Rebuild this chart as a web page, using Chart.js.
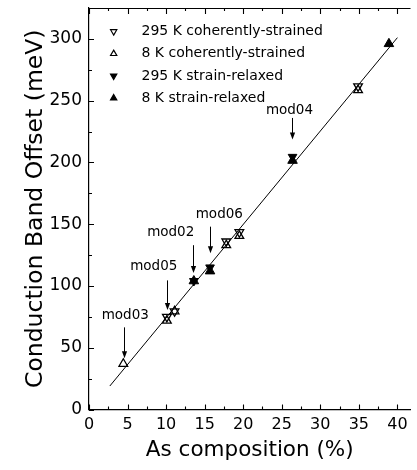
<!DOCTYPE html>
<html>
<head>
<meta charset="utf-8">
<script src="https://cdn.jsdelivr.net/npm/chart.js@4/dist/chart.umd.min.js"></script>
<style>
  html, body { margin: 0; padding: 0; background: #fff; }
  #c { display: block; }
</style>
</head>
<body>
<canvas id="c" width="417" height="470" style="width:417px;height:470px"></canvas>
<script>
// ---- data ----
const xTickValues = [0, 5, 10, 15, 20, 25, 30, 35, 40];
const yTickValues = [0, 50, 100, 150, 200, 250, 300];
const xMinorValues = [2.5, 7.5, 12.5, 17.5, 22.5, 27.5, 32.5, 37.5];
const yMinorValues = [25, 75, 125, 175, 225, 275, 325];

const fitX = [2.7, 40.0];
const fitY = [19, 301];

const coh295X = [10.1, 11.1, 17.8, 19.5, 34.9];
const coh295Y = [75.0, 79.5, 136.0, 143.5, 261.5];
const coh8X = [4.45, 10.1, 11.1, 17.8, 19.5, 34.9];
const coh8Y = [37.0, 72.0, 79.5, 133.0, 140.5, 258.5];
const rel295X = [13.6, 15.7, 26.4];
const rel295Y = [104.0, 115.0, 204.5];
const rel8X = [13.6, 15.7, 26.4, 38.9];
const rel8Y = [104.0, 112.0, 201.5, 296.0];

const seriesNames = ['295 K coherently-strained', '8 K coherently-strained', '295 K strain-relaxed', '8 K strain-relaxed'];

const annoLabels = ['mod03', 'mod05', 'mod02', 'mod06', 'mod04'];
const annoTextX = [4.7, 8.4, 10.6, 16.9, 26.0];
const annoTextY = [75.8, 115.5, 143.5, 158.0, 242.0];
const annoArrowX = [4.6, 10.1, 13.5, 15.7, 26.3];
const annoTailY = [66.5, 104.5, 133.0, 148.0, 236.0];
const annoTipY = [41.5, 80.5, 110.5, 126.5, 218.5];

const xTitle = 'As composition (%)';
const yTitle = 'Conduction Band Offset (meV)';

const toPts = (xs, ys) => xs.map((x, i) => ({ x: x, y: ys[i] }));
const FONT = "'DejaVu Sans'";

function tri(ctx, x, y, r, down, filled, lw) {
  ctx.save();
  ctx.beginPath();
  const s = down ? -1 : 1;
  ctx.moveTo(x, y - s * r);
  ctx.lineTo(x + r * Math.sqrt(3) / 2, y + s * r / 2);
  ctx.lineTo(x - r * Math.sqrt(3) / 2, y + s * r / 2);
  ctx.closePath();
  if (filled) { ctx.fillStyle = '#000'; ctx.fill(); }
  ctx.lineWidth = lw; ctx.strokeStyle = '#000'; ctx.stroke();
  ctx.restore();
}

const framePlugin = {
  id: 'frame',
  afterDraw(chart) {
    const { ctx, chartArea: a, scales: { x, y } } = chart;
    ctx.save();
    ctx.strokeStyle = '#000';
    ctx.lineWidth = 1.2;
    // top frame line
    ctx.beginPath();
    ctx.moveTo(a.left, a.top + 0.5);
    ctx.lineTo(a.right, a.top + 0.5);
    ctx.stroke();
    ctx.lineWidth = 1.1;
    ctx.beginPath();
    xTickValues.forEach(v => {
      const px = Math.round(x.getPixelForValue(v)) + 0.5;
      ctx.moveTo(px, a.bottom); ctx.lineTo(px, a.bottom - 5);
      ctx.moveTo(px, a.top); ctx.lineTo(px, a.top + 6);
    });
    xMinorValues.forEach(v => {
      const px = Math.round(x.getPixelForValue(v)) + 0.5;
      ctx.moveTo(px, a.bottom); ctx.lineTo(px, a.bottom - 3);
      ctx.moveTo(px, a.top); ctx.lineTo(px, a.top + 3);
    });
    yTickValues.forEach(v => {
      const py = Math.round(y.getPixelForValue(v)) + 0.5;
      ctx.moveTo(a.left, py); ctx.lineTo(a.left + 5, py);
    });
    yMinorValues.forEach(v => {
      const py = Math.round(y.getPixelForValue(v)) + 0.5;
      ctx.moveTo(a.left, py); ctx.lineTo(a.left + 3, py);
    });
    ctx.stroke();

    // legend inside the plot
    const lx = x.getPixelForValue(3.2);
    const ly0 = 31.5, dy = 22.2;
    ctx.font = '14px ' + FONT;
    ctx.fillStyle = '#000';
    ctx.textAlign = 'left';
    ctx.textBaseline = 'middle';
    seriesNames.forEach((name, i) => {
      const yy = ly0 + i * dy;
      tri(ctx, lx, yy, 3.6, i % 2 === 0, i >= 2, 1.2);
      ctx.fillText(name, 141.5, yy);
    });

    // annotations with arrows
    ctx.font = '13.5px ' + FONT;
    ctx.textAlign = 'center';
    annoLabels.forEach((lab, i) => {
      ctx.fillText(lab, x.getPixelForValue(annoTextX[i]), y.getPixelForValue(annoTextY[i]));
      const ax = Math.round(x.getPixelForValue(annoArrowX[i])) + 0.5;
      const t0 = y.getPixelForValue(annoTailY[i]);
      const t1 = y.getPixelForValue(annoTipY[i]);
      ctx.lineWidth = 1;
      ctx.beginPath();
      ctx.moveTo(ax, t0); ctx.lineTo(ax, t1 - 5);
      ctx.stroke();
      ctx.beginPath();
      ctx.moveTo(ax, t1);
      ctx.lineTo(ax - 2.6, t1 - 7);
      ctx.lineTo(ax + 2.6, t1 - 7);
      ctx.closePath();
      ctx.fill();
    });
    ctx.restore();
  }
};

const tickFontY = { family: FONT, size: 17 };
const tickFontX = { family: FONT, size: 16 };

new Chart(document.getElementById('c'), {
  type: 'scatter',
  data: {
    datasets: [
      { label: 'fit', data: toPts(fitX, fitY), showLine: true, pointRadius: 0, borderColor: '#000', borderWidth: 1, fill: false },
      { label: seriesNames[0], data: toPts(coh295X, coh295Y), pointStyle: 'triangle', rotation: 180, pointRadius: 5, borderWidth: 1.3, borderColor: '#000', backgroundColor: 'rgba(0,0,0,0)' },
      { label: seriesNames[1], data: toPts(coh8X, coh8Y), pointStyle: 'triangle', rotation: 0, pointRadius: 5, borderWidth: 1.3, borderColor: '#000', backgroundColor: 'rgba(0,0,0,0)' },
      { label: seriesNames[2], data: toPts(rel295X, rel295Y), pointStyle: 'triangle', rotation: 180, pointRadius: 5, borderWidth: 1, borderColor: '#000', backgroundColor: '#000' },
      { label: seriesNames[3], data: toPts(rel8X, rel8Y), pointStyle: 'triangle', rotation: 0, pointRadius: 5.5, borderWidth: 1, borderColor: '#000', backgroundColor: '#000' }
    ]
  },
  options: {
    responsive: false,
    animation: false,
    devicePixelRatio: 1,
    layout: { padding: { top: 8, left: 0, right: 0, bottom: 0 } },
    plugins: { legend: { display: false }, tooltip: { enabled: false } },
    scales: {
      x: {
        type: 'linear', position: 'bottom', min: 0, max: 41.7,
        afterBuildTicks: s => { s.ticks = xTickValues.map(v => ({ value: v })); },
        afterFit: s => { s.height = 60.5; s.paddingLeft = 0; s.paddingRight = 0; },
        ticks: { font: tickFontX, color: '#000', padding: 6, maxRotation: 0, autoSkip: false },
        grid: { display: true, drawOnChartArea: false, drawTicks: false, color: 'rgba(0,0,0,0)' },
        border: { display: true, color: '#000', width: 1.2 },
        title: { display: true, text: xTitle, color: '#000', font: { family: FONT, size: 21.5 }, padding: { top: 0, bottom: 7 } }
      },
      y: {
        type: 'linear', position: 'left', min: 0, max: 325,
        afterBuildTicks: s => { s.ticks = yTickValues.map(v => ({ value: v })); },
        afterFit: s => { s.width = 89; s.paddingTop = 0; s.paddingBottom = 0; },
        ticks: { font: tickFontY, color: '#000', padding: 7, autoSkip: false },
        grid: { display: true, drawOnChartArea: false, drawTicks: false, color: 'rgba(0,0,0,0)' },
        border: { display: true, color: '#000', width: 1.2 },
        title: { display: true, text: yTitle, color: '#000', font: { family: FONT, size: 23.5 }, padding: { top: 22, bottom: 0 } }
      }
    }
  },
  plugins: [framePlugin]
});
</script>
</body>
</html>
